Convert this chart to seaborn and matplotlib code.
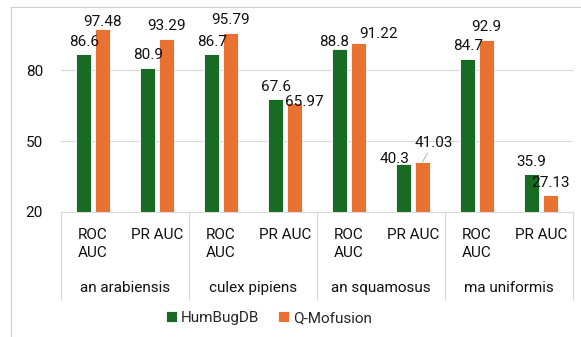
import numpy as np
import pandas as pd
import seaborn as sns
import matplotlib.pyplot as plt
from matplotlib.lines import Line2D

# chart data
species = ["an arabiensis", "culex pipiens", "an squamosus", "ma uniformis"]
metrics = ["ROC AUC", "PR AUC"]
metric_labels = ["ROC\nAUC", "PR AUC"]
models = ["HumBugDB", "Q-Mofusion"]
humbugdb = [86.6, 80.9, 86.7, 67.6, 88.8, 40.3, 84.7, 35.9]
q_mofusion = [97.48, 93.29, 95.79, 65.97, 91.22, 41.03, 92.9, 27.13]
y_ticks = [20, 50, 80]

colors = {"HumBugDB": "#196B24", "Q-Mofusion": "#E97132"}
grid_col = "#D9D9D9"
txt_col = "#111111"
fs = 11

# label nudges in points (dx, dy), keyed by (model index, slot index)
nudges = {(1, 0): (0, -4.3), (1, 3): (7, -8), (0, 4): (-4.3, -3.6),
          (1, 4): (14.4, -2.2), (0, 5): (-6.5, -5.8)}
leader = (1, 5)  # label pulled away with a leader line

slots = [f"{s}|{m}" for s in species for m in metrics]
rows = []
for i, slot in enumerate(slots):
    rows.append({"slot": slot, "model": models[0], "value": humbugdb[i]})
    rows.append({"slot": slot, "model": models[1], "value": q_mofusion[i]})
df = pd.DataFrame(rows)

sns.set_style("white")
plt.rcParams["font.family"] = ["Roboto", "DejaVu Sans"]
plt.rcParams["font.size"] = fs

fig = plt.figure(figsize=(5.81, 3.37), dpi=100)
ax = fig.add_axes([61 / 581, 1 - 212 / 337, 512 / 581, 189.3 / 337])

sns.barplot(data=df, x="slot", y="value", hue="model", order=slots,
            hue_order=models, palette=colors, saturation=1, width=0.58, gap=0.2,
            edgecolor="white", linewidth=0.6, errorbar=None, ax=ax)

ax.set_ylim(20, 100)
ax.set_xlim(-0.5, len(slots) - 0.5)
ax.set_yticks(y_ticks)
ax.set_yticklabels([str(t) for t in y_ticks], color=txt_col, fontsize=fs)
ax.tick_params(axis="y", length=0, pad=13)
ax.tick_params(axis="x", length=0)
ax.set_xticklabels([])
ax.set_xlabel("")
ax.set_ylabel("")
for t in [50, 80]:
    ax.axhline(t, color=grid_col, lw=0.8, zorder=0)
for side in ["top", "right", "left"]:
    ax.spines[side].set_visible(False)
ax.spines["bottom"].set_color(grid_col)
ax.spines["bottom"].set_linewidth(0.8)

# value labels
vals = [humbugdb, q_mofusion]
for mi, cont in enumerate(ax.containers):
    labs = [("" if (mi, si) == leader else f"{v:g}") for si, v in enumerate(vals[mi])]
    anns = ax.bar_label(cont, labels=labs, padding=4, fontsize=fs, color=txt_col)
    for si, ann in enumerate(anns):
        if (mi, si) in nudges:
            dx, dy = nudges[(mi, si)]
            ann.xyann = (dx, 4 + dy)
    if mi == leader[0]:
        bar = cont.patches[leader[1]]
        ax.annotate(f"{vals[mi][leader[1]]:g}",
                    xy=(bar.get_x() + bar.get_width() / 2, bar.get_height()),
                    xytext=(8, 9), textcoords="offset points", ha="center",
                    va="bottom", fontsize=fs, color=txt_col,
                    arrowprops=dict(arrowstyle="-", color="#A6A6A6", lw=0.6,
                                    shrinkA=0, shrinkB=0))

# multi-level category axis
trans = ax.get_xaxis_transform()
for si, slot in enumerate(slots):
    ax.text(si, -0.085, metric_labels[si % 2], transform=trans, ha="center",
            va="top", linespacing=1.4, color=txt_col, fontsize=fs)
for gi, s in enumerate(species):
    ax.text(gi * 2 + 0.5, -0.40, s, transform=trans, ha="center",
            va="center", color=txt_col, fontsize=fs)
for b in np.arange(-0.5, len(slots), 2):
    ax.add_line(Line2D([b, b], [0, -0.465], transform=trans, color=grid_col,
                       lw=0.8, clip_on=False))

sns.move_legend(ax, "center", bbox_to_anchor=(269 / 581, 1 - 318 / 337),
                bbox_transform=fig.transFigure, ncol=2, frameon=False,
                title=None, handlelength=0.7, handleheight=0.7,
                handletextpad=0.3, columnspacing=1.2, fontsize=fs)

# chart area border (left and top edges visible)
fig.add_artist(Line2D([11 / 581, 11 / 581], [0, 1 - 7 / 337], transform=fig.transFigure,
                      color="#CFCFCF", lw=0.8))
fig.add_artist(Line2D([11 / 581, 1], [1 - 7 / 337, 1 - 7 / 337], transform=fig.transFigure,
                      color="#CFCFCF", lw=0.8))

fig.savefig("out.png", dpi=100)
